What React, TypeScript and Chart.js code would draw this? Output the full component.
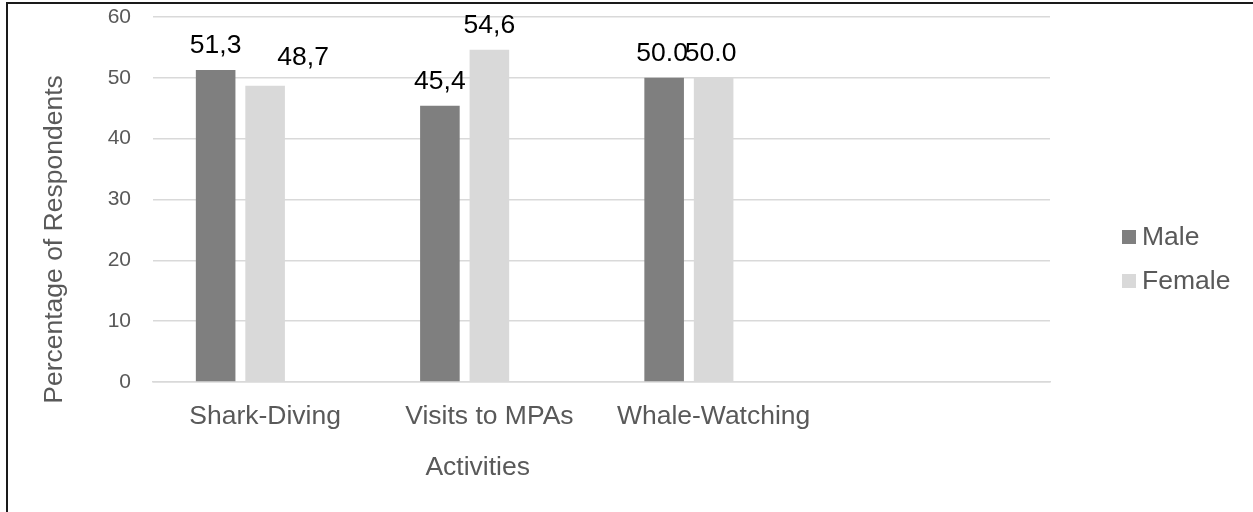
import React, { useEffect, useRef } from "react";
import { Chart, registerables } from "chart.js";

Chart.register(...registerables);

// ---- data ----
const categories = ["Shark-Diving", "Visits to MPAs", "Whale-Watching", ""];
const maleValues: (number | null)[] = [51.3, 45.4, 50.0, null];
const femaleValues: (number | null)[] = [48.7, 54.6, 50.0, null];
const spareValues: (number | null)[] = [null, null, null, null];
const maleLabels = ["51,3", "45,4", "50.0", ""];
const femaleLabels = ["48,7", "54,6", "50.0", ""];
const seriesNames = ["Male", "Female"];
const yTickValues = [0, 10, 20, 30, 40, 50, 60];
const yAxisTitle = "Percentage of Respondents";
const xAxisTitle = "Activities";

// ---- styles ----
const FONT = "'Liberation Sans', Arial, sans-serif";
const BIG = 26.5;
const MALE_COLOR = "#7f7f7f";
const FEMALE_COLOR = "#d9d9d9";
const TEXT_GREY = "#595959";
// small manual nudges of the value labels (dx, dy), per series / category
const labelNudge: number[][][] = [
  [[0, 0], [0, 0], [-2, 0], [0, 0]],
  [[38, -4], [0, 0], [-3, 0], [0, 0]],
];

const overlayPlugin = {
  id: "overlay",
  afterDatasetsDraw(chart: any) {
    const ctx = chart.ctx as CanvasRenderingContext2D;
    const area = chart.chartArea;
    ctx.save();

    // value labels
    ctx.font = `${BIG}px ${FONT}`;
    ctx.fillStyle = "#000000";
    ctx.textAlign = "center";
    ctx.textBaseline = "middle";
    [maleLabels, femaleLabels].forEach((labels, di) => {
      const meta = chart.getDatasetMeta(di);
      meta.data.forEach((el: any, i: number) => {
        const t = labels[i];
        if (!t) return;
        const [dx, dy] = labelNudge[di][i] || [0, 0];
        ctx.fillText(t, el.x + dx, el.y - 24 + dy);
      });
    });

    // axis titles
    ctx.fillStyle = TEXT_GREY;
    ctx.font = `${BIG}px ${FONT}`;
    ctx.save();
    ctx.translate(55, (area.top + area.bottom) / 2 + 40);
    ctx.rotate(-Math.PI / 2);
    ctx.fillText(yAxisTitle, 0, 0);
    ctx.restore();
    ctx.fillText(xAxisTitle, area.left + (area.right - area.left) * 0.362, area.bottom + 86);

    // legend
    const legendCenter = chart.height / 2 + 3;
    const colors = [MALE_COLOR, FEMALE_COLOR];
    seriesNames.forEach((name, i) => {
      const cy = legendCenter - 22 + i * 44;
      ctx.fillStyle = colors[i];
      ctx.fillRect(area.right + 72, cy - 7, 14, 14);
      ctx.fillStyle = TEXT_GREY;
      ctx.textAlign = "left";
      ctx.fillText(name, area.right + 92, cy + 1);
    });

    ctx.restore();
  },
};

export default function App() {
  const canvasRef = useRef<HTMLCanvasElement | null>(null);

  useEffect(() => {
    if (!canvasRef.current) return;
    const chart = new Chart(canvasRef.current, {
      type: "bar",
      data: {
        labels: categories,
        datasets: [
          { label: seriesNames[0], data: maleValues, backgroundColor: MALE_COLOR },
          { label: seriesNames[1], data: femaleValues, backgroundColor: FEMALE_COLOR },
          { label: "", data: spareValues, backgroundColor: "#ffffff" },
        ],
      },
      options: {
        responsive: false,
        animation: false,
        categoryPercentage: 0.662,
        barPercentage: 0.8,
        layout: { padding: { top: 17, right: 203, bottom: 0, left: 0 } },
        plugins: {
          legend: { display: false },
          tooltip: { enabled: false },
          title: { display: false },
        },
        scales: {
          x: {
            grid: { display: false, drawTicks: false },
            border: { display: true, color: "#d9d9d9", width: 1.5 },
            ticks: {
              color: TEXT_GREY,
              font: { family: FONT, size: BIG },
              padding: 19,
              maxRotation: 0,
              autoSkip: false,
            },
            afterFit: (scale: any) => {
              scale.height = 130;
              scale.paddingLeft = 0;
              scale.paddingRight = 0;
            },
          },
          y: {
            min: 0,
            max: 60,
            afterBuildTicks: (scale: any) => {
              scale.ticks = yTickValues.map((v) => ({ value: v }));
            },
            grid: { color: "#d9d9d9", lineWidth: 1.5, drawTicks: false },
            border: { display: false },
            ticks: {
              color: TEXT_GREY,
              font: { family: FONT, size: 21 },
              padding: 22,
            },
            afterFit: (scale: any) => {
              scale.width = 153;
              scale.paddingTop = 0;
              scale.paddingBottom = 0;
            },
          },
        },
      },
      plugins: [overlayPlugin],
    });
    return () => chart.destroy();
  }, []);

  return (
    <div
      style={{
        position: "fixed",
        left: 0,
        top: 0,
        width: 1253,
        height: 512,
        overflow: "hidden",
        background: "#ffffff",
      }}
    >
      <canvas
        ref={canvasRef}
        width={1253}
        height={512}
        style={{ position: "absolute", left: 0, top: 0, width: 1253, height: 512 }}
      />
      <div
        style={{
          position: "absolute",
          left: 6,
          top: 2,
          width: 1300,
          height: 600,
          borderTop: "2px solid #1a1a1a",
          borderLeft: "2px solid #1a1a1a",
          pointerEvents: "none",
        }}
      />
    </div>
  );
}
